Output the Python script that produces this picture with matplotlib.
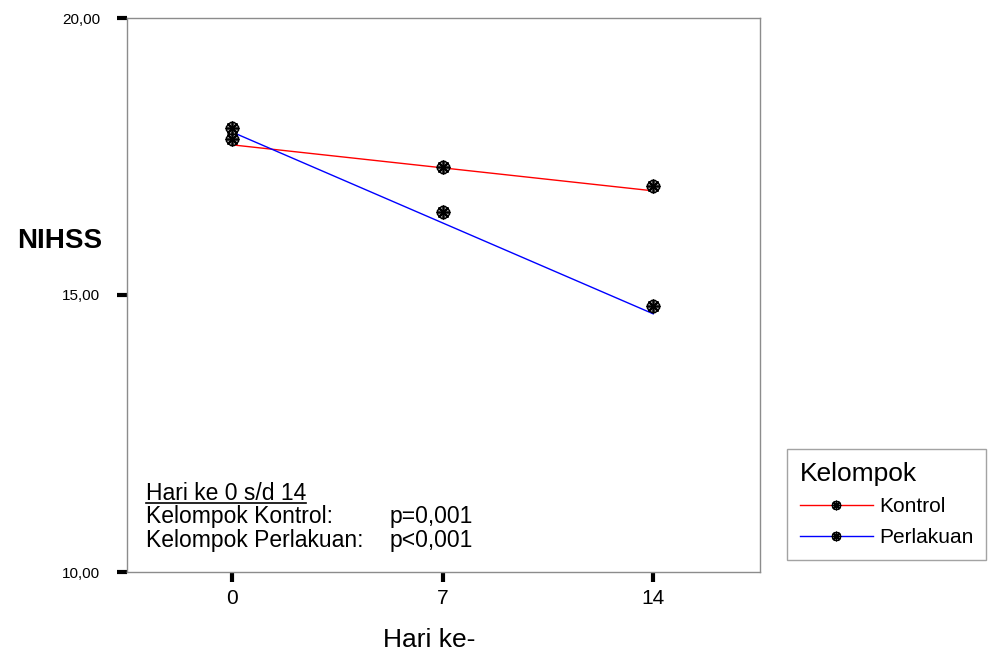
import matplotlib
matplotlib.use("Agg")
import matplotlib.pyplot as plt
import numpy as np
from matplotlib.lines import Line2D
from matplotlib.legend_handler import HandlerTuple

plt.rcParams['font.family'] = ['Liberation Sans', 'DejaVu Sans']

# Data
days = np.array([0, 7, 14])
kontrol = np.array([17.82, 17.31, 16.97])
perlakuan = np.array([18.01, 16.50, 14.80])
# fitted line ends (day 0 and day 14) as drawn in the chart
fit_days = np.array([0, 14])
kontrol_fit = np.array([17.71, 16.88])
perlakuan_fit = np.array([17.94, 14.66])
y_ticks = [10, 15, 20]
y_ticklabels = ["10,00", "15,00", "20,00"]
x_ticklabels = ["0", "7", "14"]

W, H = 994, 653
fig = plt.figure(figsize=(W / 100, H / 100), dpi=100)
ax = fig.add_axes([127 / W, 1 - 572 / H, (760 - 127) / W, (572 - 18) / H])

def draw_marker(ax, x, y):
    ax.plot(x, y, ls='none', marker='8', ms=9, mfc='#9a9a9a', mec='black', mew=1.0, zorder=4)
    ax.plot(x, y, ls='none', marker=(8, 2, 0), ms=10, mec='black', mew=1.2, zorder=5)

ax.plot(fit_days, kontrol_fit, color='red', lw=1.0, zorder=3)
ax.plot(fit_days, perlakuan_fit, color='blue', lw=1.0, zorder=3)

draw_marker(ax, days, kontrol)
draw_marker(ax, days, perlakuan)

ax.set_xlim(-3.5, 17.55)
ax.set_ylim(10, 20)
ax.set_xticks(days)
ax.set_xticklabels(x_ticklabels, fontsize=15)
ax.set_yticks(y_ticks)
ax.set_yticklabels(y_ticklabels, fontsize=11)
ax.tick_params(axis='both', direction='out', length=7.5, width=3, color='black')
ax.tick_params(axis='x', pad=5)
ax.tick_params(axis='y', pad=12)
for s in ax.spines.values():
    s.set_color('#8c8c8c')
    s.set_linewidth(1.0)

fig.text(429 / W, 1 - 640 / H, "Hari ke-", fontsize=19, ha='center', va='center')
fig.text(60 / W, 1 - 241 / H, "NIHSS", fontsize=20, fontweight='bold', ha='center', va='center')

# Annotation box
fs = 16.5
t1 = fig.text(146 / W, 1 - 500 / H, "Hari ke 0 s/d 14", fontsize=fs, va='baseline', ha='left')
fig.text(146 / W, 1 - 523 / H, "Kelompok Kontrol:", fontsize=fs, va='baseline', ha='left')
fig.text(146 / W, 1 - 547 / H, "Kelompok Perlakuan:", fontsize=fs, va='baseline', ha='left')
fig.text(390 / W, 1 - 523 / H, "p=0,001", fontsize=fs, va='baseline', ha='left')
fig.text(390 / W, 1 - 547 / H, "p<0,001", fontsize=fs, va='baseline', ha='left')

fig.canvas.draw()
bb = t1.get_window_extent(fig.canvas.get_renderer())
uy = 1 - 503 / H
fig.add_artist(Line2D([bb.x0 / W, bb.x1 / W], [uy, uy], color='black', lw=1.2))

# Legend
def handle(col):
    ln = Line2D([], [], color=col, lw=1.0)
    m1 = Line2D([], [], ls='none', marker='8', ms=6, mfc='#9a9a9a', mec='black', mew=0.8)
    m2 = Line2D([], [], ls='none', marker=(8, 2, 0), ms=7, mec='black', mew=1.0)
    return (ln, m1, m2)

leg = fig.legend([handle('red'), handle('blue')], ["Kontrol", "Perlakuan"],
                 handler_map={tuple: HandlerTuple(ndivide=1, pad=0)},
                 loc='upper left', bbox_to_anchor=(787 / W, 1 - 449 / H),
                 title="Kelompok", title_fontsize=19, fontsize=15,
                 frameon=True, fancybox=False, edgecolor='#8c8c8c',
                 handlelength=3.5, handletextpad=0.3, borderpad=0.62,
                 labelspacing=0.55, borderaxespad=0)
leg._legend_box.align = "left"
leg.get_frame().set_linewidth(1.0)

fig.savefig("out.png", dpi=100)
